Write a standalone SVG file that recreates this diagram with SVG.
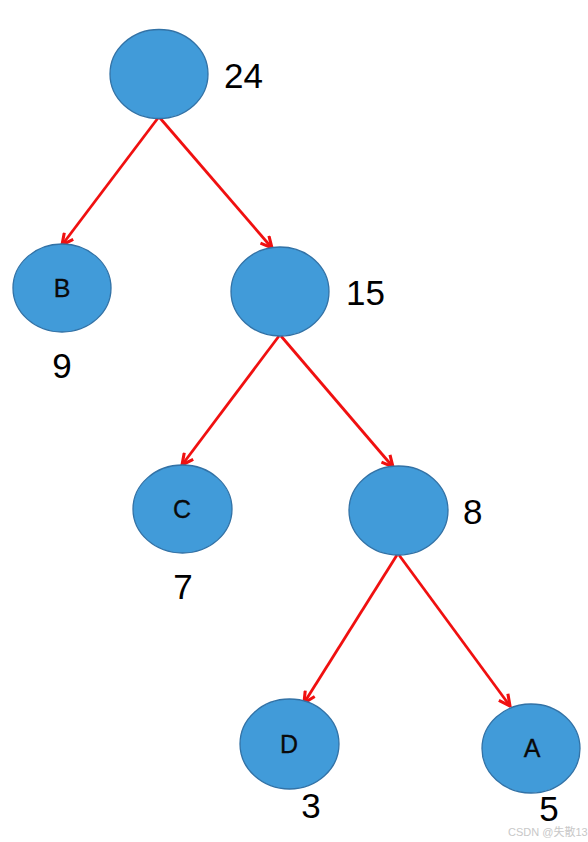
<svg xmlns="http://www.w3.org/2000/svg" width="588" height="842" viewBox="0 0 588 842">
<style>
.n{fill:#419bd9;stroke:#3272a6;stroke-width:1.3}
.e{stroke:#f01010;stroke-width:2.8;fill:none;marker-end:url(#ah)}
.w{font-family:"Liberation Sans",Arial,sans-serif;font-size:35px;fill:#000}
.l{font-family:"Liberation Sans",Arial,sans-serif;font-size:25px;fill:#0a0a0a;text-anchor:middle;stroke:#0a0a0a;stroke-width:0.3}
.wm{font-family:"Liberation Sans","Noto Sans CJK SC",sans-serif;font-size:11px;fill:#c8c8c8}
</style>
<defs>
<marker id="ah" viewBox="0 0 10 10" refX="9" refY="5" markerWidth="5" markerHeight="5" markerUnits="strokeWidth" orient="auto">
<path d="M1,1 L9,5 L1,9" fill="none" stroke="#f01010" stroke-width="2.2"/>
</marker>
</defs>
<rect width="588" height="842" fill="#fff"/>
<g id="edges">
<line class="e" x1="158" y1="118" x2="62" y2="245"/>
<line class="e" x1="160" y1="118" x2="272" y2="248"/>
<line class="e" x1="279" y1="336" x2="182" y2="465"/>
<line class="e" x1="281" y1="336" x2="393" y2="467"/>
<line class="e" x1="397" y1="555" x2="304" y2="703"/>
<line class="e" x1="399" y1="555" x2="510" y2="706"/>
</g>
<g id="n24">
<ellipse class="n" cx="159" cy="74" rx="49" ry="44.5"/>
<text class="w" x="224" y="88">24</text>
</g>
<g id="nB">
<ellipse class="n" cx="62" cy="288" rx="49" ry="44"/>
<text class="l" x="62" y="297">B</text>
<text class="w" x="62" y="378" text-anchor="middle">9</text>
</g>
<g id="n15">
<ellipse class="n" cx="280" cy="291.5" rx="49" ry="44.5"/>
<text class="w" x="346" y="305">15</text>
</g>
<g id="nC">
<ellipse class="n" cx="182.5" cy="509" rx="49.5" ry="44"/>
<text class="l" x="182" y="518">C</text>
<text class="w" x="183" y="599" text-anchor="middle">7</text>
</g>
<g id="n8">
<ellipse class="n" cx="398.5" cy="510.5" rx="49.5" ry="44.5"/>
<text class="w" x="463" y="524">8</text>
</g>
<g id="nD">
<ellipse class="n" cx="289.5" cy="744" rx="49.5" ry="45"/>
<text class="l" x="289" y="753">D</text>
<text class="w" x="311" y="818" text-anchor="middle">3</text>
</g>
<g id="nA">
<ellipse class="n" cx="531" cy="748.5" rx="49" ry="44.5"/>
<text class="l" x="532" y="757">A</text>
<text class="w" x="549" y="821" text-anchor="middle">5</text>
</g>
<text class="wm" x="508" y="836">CSDN @失散13</text>
</svg>
